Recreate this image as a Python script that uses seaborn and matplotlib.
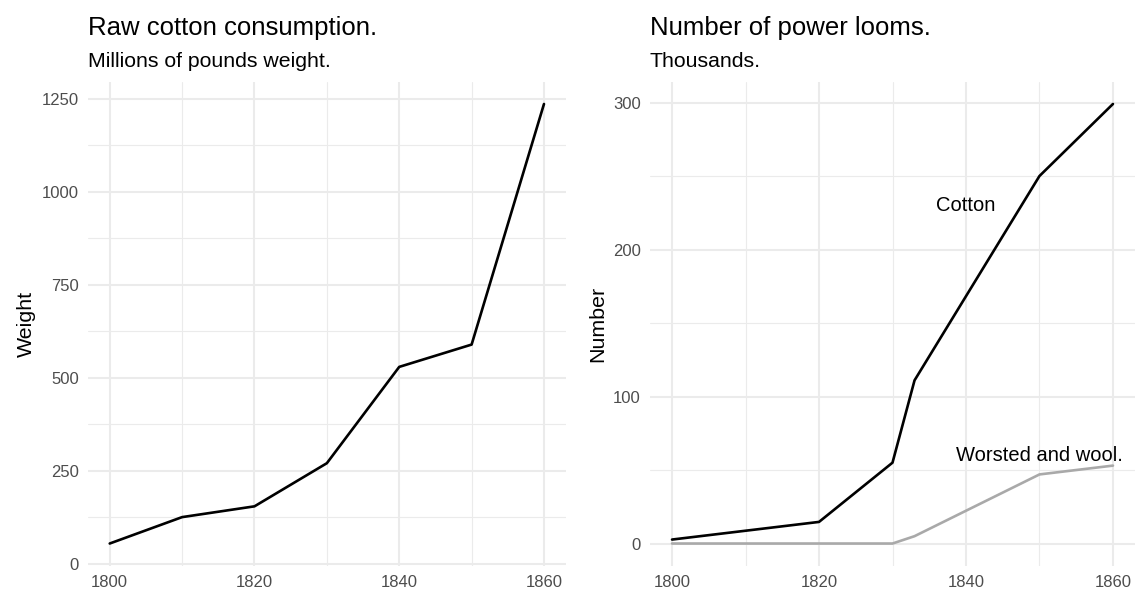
import matplotlib
matplotlib.use("Agg")
import matplotlib.pyplot as plt
from matplotlib.ticker import MultipleLocator, FixedLocator
import seaborn as sns
import pandas as pd

# ---- data ----
cotton_years = [1800, 1810, 1820, 1830, 1840, 1850, 1860]
cotton_weight = [54, 125, 154, 270, 529, 589, 1236]

loom_years = [1800, 1820, 1830, 1833, 1850, 1860]
loom_cotton = [2.7, 14.7, 55, 111, 250, 299]
loom_worsted = [0, 0, 0, 5, 47, 53]

left_title = "Raw cotton consumption."
left_subtitle = "Millions of pounds weight."
right_title = "Number of power looms."
right_subtitle = "Thousands."

left_yticks = [0, 250, 500, 750, 1000, 1250]
right_yticks = [0, 100, 200, 300]
xticks = [1800, 1820, 1840, 1860]

# ---- styling ----
sns.set_theme(style="white")
plt.rcParams['font.family'] = ['Liberation Sans', 'DejaVu Sans']

GRID = "#EBEBEB"
TICK_COL = "#4D4D4D"
W, H = 1135, 590

fig = plt.figure(figsize=(W / 100, H / 100), dpi=100)
fig.patch.set_facecolor("white")

top_px, bot_px = 82, 565.5
axL = fig.add_axes([88 / W, 1 - bot_px / H, (565.7 - 88) / W, (bot_px - top_px) / H])
axR = fig.add_axes([650 / W, 1 - bot_px / H, (1135 - 650) / W, (bot_px - top_px) / H])

df_left = pd.DataFrame({"Year": cotton_years, "Weight": cotton_weight})
sns.lineplot(data=df_left, x="Year", y="Weight", color="black", linewidth=1.9, ax=axL, zorder=3)

df_right = pd.DataFrame({
    "Year": loom_years + loom_years,
    "Number": loom_cotton + loom_worsted,
    "Type": ["Cotton"] * len(loom_years) + ["Worsted"] * len(loom_years),
})
sns.lineplot(data=df_right, x="Year", y="Number", hue="Type",
             palette={"Cotton": "black", "Worsted": "#A9A9A9"},
             linewidth=1.9, legend=False, ax=axR, zorder=3)

def style(ax, yticks, yminor, ylabel):
    ax.margins(x=0.05, y=0.05)
    ax.xaxis.set_major_locator(FixedLocator(xticks))
    ax.xaxis.set_minor_locator(MultipleLocator(10))
    ax.yaxis.set_major_locator(FixedLocator(yticks))
    ax.yaxis.set_minor_locator(MultipleLocator(yminor))
    ax.grid(True, which="major", color=GRID, linewidth=1.5, zorder=0)
    ax.grid(True, which="minor", color=GRID, linewidth=0.8, zorder=0)
    ax.set_axisbelow(True)
    for s in ax.spines.values():
        s.set_visible(False)
    ax.tick_params(which="both", length=0, pad=6.7, labelsize=12, labelcolor=TICK_COL)
    ax.set_xlabel("")
    ax.set_ylabel(ylabel, fontsize=15.4, color="black", labelpad=4)
    ax.set_facecolor("white")

style(axL, left_yticks, 125, "Weight")
style(axR, right_yticks, 50, "Number")

axR.text(1840, 230, "Cotton", ha="center", va="center", fontsize=14.5, color="black")
axR.text(1850, 60, "Worsted and wool.", ha="center", va="center", fontsize=14.5, color="black")

fig.text(88 / W, 1 - 35 / H, left_title, fontsize=18.5, va="baseline", ha="left", color="black")
fig.text(88 / W, 1 - 66.7 / H, left_subtitle, fontsize=15.35, va="baseline", ha="left", color="black")
fig.text(650 / W, 1 - 35 / H, right_title, fontsize=18.5, va="baseline", ha="left", color="black")
fig.text(650 / W, 1 - 66.7 / H, right_subtitle, fontsize=15.35, va="baseline", ha="left", color="black")

fig.savefig("out.png", dpi=100, facecolor="white")
